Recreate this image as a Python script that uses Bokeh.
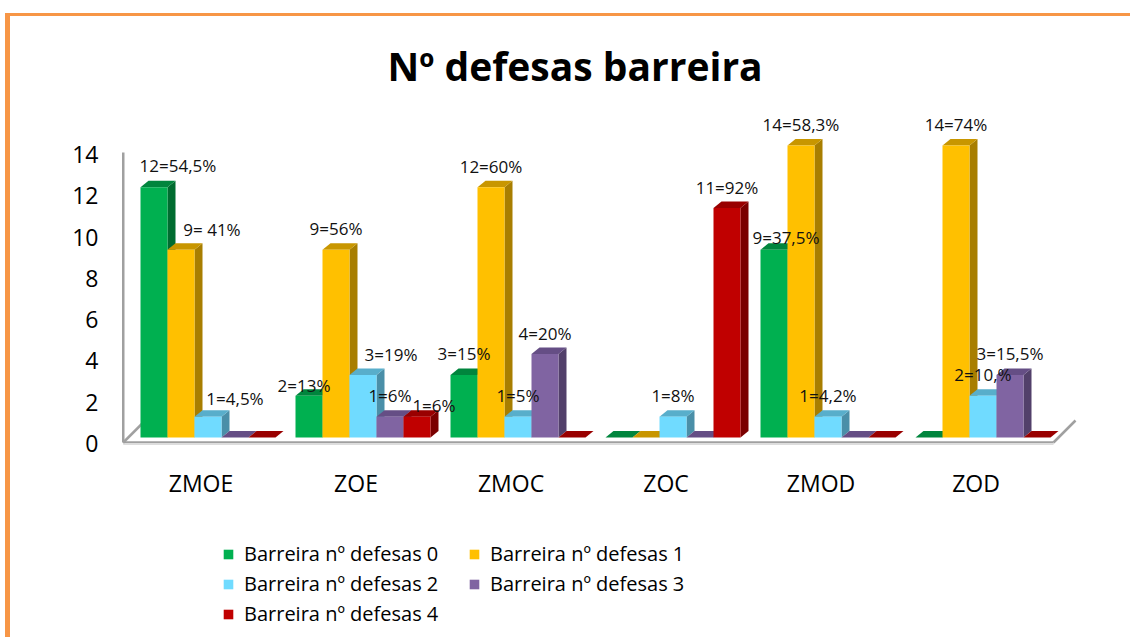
from bokeh.plotting import figure
from bokeh.models import (ColumnDataSource, Range1d, LinearAxis, FixedTicker,
                          Legend, LegendItem)
from bokeh.core.properties import value
from bokeh.embed import file_html
from bokeh.resources import INLINE

# ---------------- data ----------------
categories = ["ZMOE", "ZOE", "ZMOC", "ZOC", "ZMOD", "ZOD"]
series_names = ["Barreira nº defesas 0", "Barreira nº defesas 1",
                "Barreira nº defesas 2", "Barreira nº defesas 3",
                "Barreira nº defesas 4"]
defesas_0 = [12, 2, 3, 0, 9, 0]
defesas_1 = [9, 9, 12, 0, 14, 14]
defesas_2 = [1, 3, 1, 1, 1, 2]
defesas_3 = [0, 1, 4, 0, 0, 3]
defesas_4 = [0, 1, 0, 11, 0, 0]
labels_0 = ["12=54,5%", "2=13%", "3=15%", "", "9=37,5%", ""]
labels_1 = ["9= 41%", "9=56%", "12=60%", "", "14=58,3%", "14=74%"]
labels_2 = ["1=4,5%", "3=19%", "1=5%", "1=8%", "1=4,2%", "2=10,%"]
labels_3 = ["", "1=6%", "4=20%", "", "", "3=15,5%"]
labels_4 = ["", "1=6%", "", "11=92%", "", ""]
y_ticks = [0, 2, 4, 6, 8, 10, 12, 14]
title_text = "Nº defesas barreira"

series_values = [defesas_0, defesas_1, defesas_2, defesas_3, defesas_4]
series_labels = [labels_0, labels_1, labels_2, labels_3, labels_4]

# ---------------- styling ----------------
front_colors = ["#00B050", "#FFC000", "#70DBFF", "#8064A2", "#C00000"]
side_colors = ["#006C30", "#A87E00", "#4A8FA8", "#52406A", "#7A0000"]
top_colors = ["#00853D", "#C89600", "#58AECB", "#654E85", "#990000"]
FONT = "Open Sans"

W, H = 1130, 637
FL, FT, FW = 114, 100, 970
FH = H - FT
X_PX = 155.0      # px per category
Y_PX = 20.86      # px per unit
x_start = -0.5 - 16 / X_PX
x_end = x_start + FW / X_PX
y_end = (437 - FT) / Y_PX
y_start = y_end - FH / Y_PX
T_PX = 20.64
t_end = (443 - FT) / T_PX
t_start = t_end - FH / T_PX

BW = 27 / X_PX
DX = 8 / X_PX
DY = 6.5 / Y_PX

p = figure(width=W, height=H, output_backend="svg", toolbar_location=None,
           x_range=Range1d(x_start, x_end), y_range=Range1d(y_start, y_end),
           x_axis_location=None, y_axis_location=None,
           min_border_left=FL, min_border_top=FT,
           min_border_right=W - FL - FW, min_border_bottom=0)
p.border_fill_color = None
p.background_fill_color = None
p.outline_line_color = None
p.xgrid.visible = False
p.ygrid.visible = False
p.styles = {"box-shadow": "inset 0 13px 0 0 #ffffff, inset 5px 0 0 0 #ffffff, "
                          "inset 0 16px 0 0 #F79646, inset 10px 0 0 0 #F79646"}

# title
p.title.text = title_text
p.title.align = "left"
p.title.offset = 273
p.title.standoff = 18
p.title.text_font = FONT
p.title.text_font_size = "39px"
p.title.text_font_style = "bold"
p.title.text_color = "#000000"

# y axis
p.extra_y_ranges = {"ticks": Range1d(t_start, t_end)}
ya = LinearAxis(y_range_name="ticks", ticker=FixedTicker(ticks=y_ticks))
ya.axis_line_color = None
ya.major_tick_line_color = None
ya.minor_tick_line_color = None
ya.major_label_text_font = FONT
ya.major_label_text_font_size = "23px"
ya.major_label_text_color = "#000000"
ya.major_label_standoff = 10
p.add_layout(ya, "left")

# category labels (x axis)
cat_y = (437 - 482) / Y_PX
csrc = ColumnDataSource(dict(x=list(range(len(categories))),
                             y=[cat_y] * len(categories), t=categories))
p.text(x="x", y="y", text="t", source=csrc, x_offset=-7, text_align="center",
       text_baseline="middle", text_font=value(FONT), text_font_size="23px",
       text_color="#000000")

# floor / wall
n = len(categories)
wall_x = x_start + 8.75 / X_PX
floor_y = -5 / Y_PX
right_x = (n - 0.5) + (1053 - 1060) / X_PX
back_y = 17 / Y_PX
p.line([wall_x, wall_x], [floor_y, (437 - 152) / Y_PX], line_color="#A0A0A0", line_width=2.5)
p.line([wall_x, right_x], [floor_y, floor_y], line_color="#A0A0A0", line_width=2.5)
p.line([wall_x, right_x], [floor_y - 1.6 / Y_PX, floor_y - 1.6 / Y_PX], line_color="#DDDDDD", line_width=2)
p.line([wall_x, wall_x + 22 / X_PX], [floor_y, back_y], line_color="#A0A0A0", line_width=2.5)
p.line([right_x, right_x + 22 / X_PX], [floor_y, back_y], line_color="#A0A0A0", line_width=2.5)

# bars
items = []
for k, vals in enumerate(series_values):
    xs, ys, cols = [], [], []
    for i, v in enumerate(vals):
        x0 = i - 2.5 * BW + k * BW
        x1 = x0 + BW
        xs.append([x1, x1 + DX, x1 + DX, x1]); ys.append([0, DY, v + DY, v]); cols.append(side_colors[k])
        xs.append([x0, x0 + DX, x1 + DX, x1]); ys.append([v, v + DY, v + DY, v]); cols.append(top_colors[k])
        xs.append([x0, x1, x1, x0]); ys.append([0, 0, v, v]); cols.append(front_colors[k])
    src = ColumnDataSource(dict(xs=xs, ys=ys, c=cols))
    r = p.patches("xs", "ys", fill_color="c", line_color=None, source=src)
    items.append(LegendItem(label=series_names[k], renderers=[r], index=2))

# data labels
label_shift = {(0, 0): (24, -22), (1, 0): (31, -20), (2, 0): (27, -18),
               (0, 1): (-5, -10), (2, 1): (28, -20), (4, 1): (17, -11),
               (0, 4): (12, -12)}
lx, ly, lt, lxo, lyo = [], [], [], [], []
for k, (vals, labs) in enumerate(zip(series_values, series_labels)):
    for i, (v, t) in enumerate(zip(vals, labs)):
        if not t:
            continue
        dxo, dyo = label_shift.get((k, i), (0, -21))
        lx.append(i - 2.5 * BW + (k + 0.5) * BW)
        ly.append(v)
        lt.append(t)
        lxo.append(dxo)
        lyo.append(dyo)
lsrc = ColumnDataSource(dict(x=lx, y=ly, t=lt, xo=lxo, yo=lyo))
p.text(x="x", y="y", text="t", x_offset="xo", y_offset="yo", source=lsrc,
       text_align="center", text_baseline="middle", text_font=value(FONT),
       text_font_size="17px", text_color="#111111")

legend = Legend(items=items, location=(108, 10), orientation="horizontal", ncols=2,
                glyph_width=12, glyph_height=12, label_standoff=10, label_width=221,
                label_height=27, spacing=3, padding=0, margin=0,
                border_line_color=None, background_fill_alpha=0,
                label_text_font=FONT, label_text_font_size="20px",
                label_text_color="#000000")
p.add_layout(legend)

open("out.html", "w").write(file_html(p, INLINE))
